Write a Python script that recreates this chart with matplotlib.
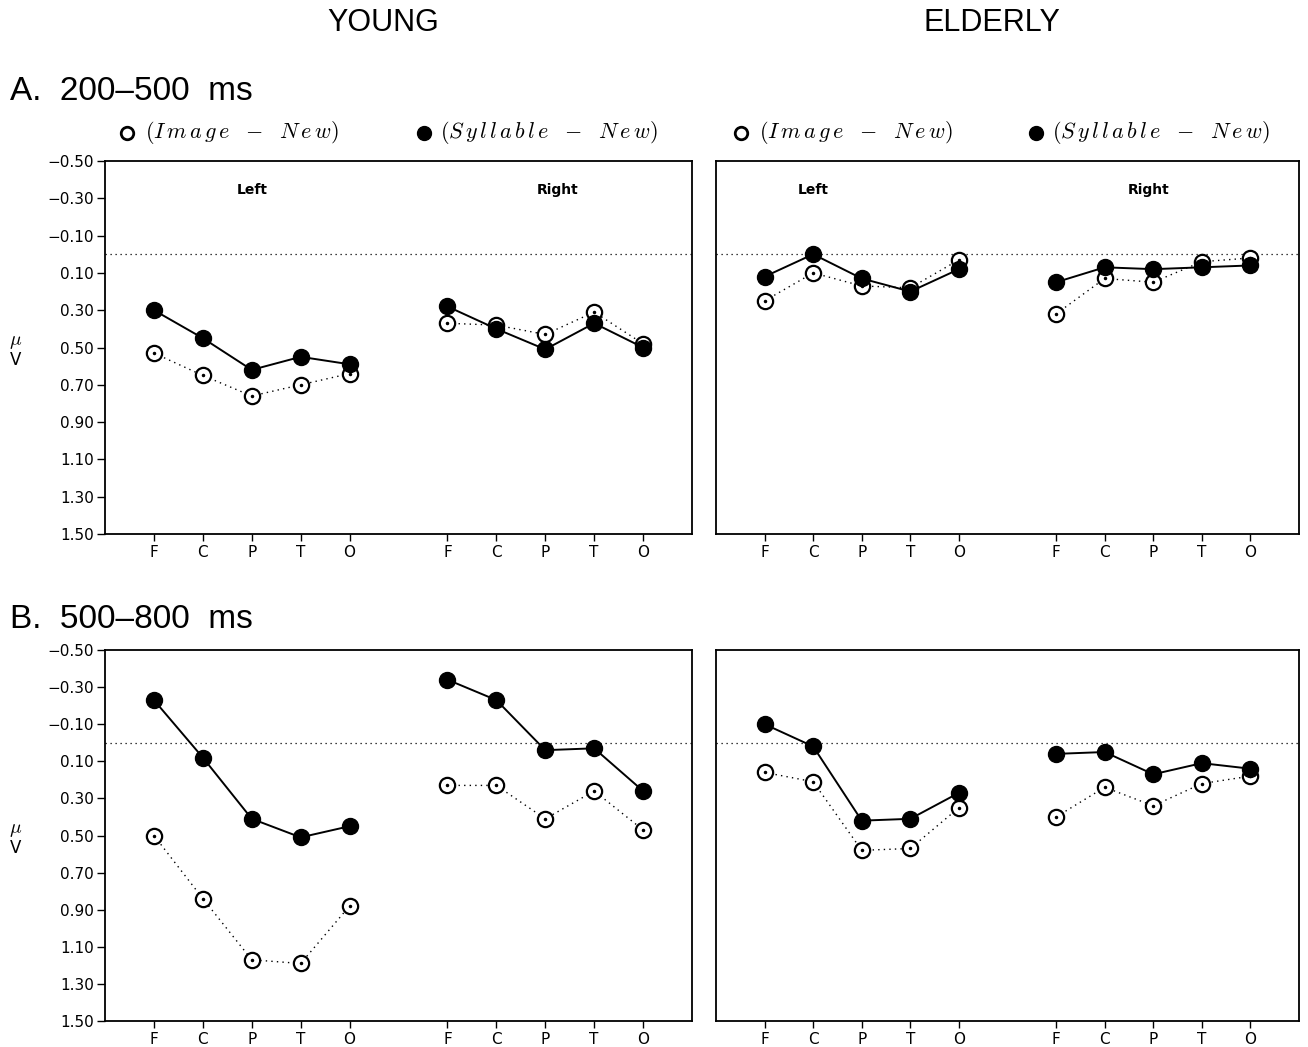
import matplotlib
matplotlib.use('Agg')
from matplotlib import pyplot as plt
from matplotlib.lines import Line2D
from matplotlib.transforms import blended_transform_factory

plt.rcParams['font.family'] = 'DejaVu Sans'
plt.rcParams['mathtext.fontset'] = 'cm'

# electrode sites, left hemisphere then right hemisphere
electrodes = ['F', 'C', 'P', 'T', 'O']
positions = [0, 1, 2, 3, 4, 6, 7, 8, 9, 10]

y_ticks = [-0.5, -0.3, -0.1, 0.1, 0.3, 0.5, 0.7, 0.9, 1.1, 1.3, 1.5]
y_ticklabels = ['\u22120.50', '\u22120.30', '\u22120.10', '0.10', '0.30',
                '0.50', '0.70', '0.90', '1.10', '1.30', '1.50']

# difference waves in microvolts (Left F..O, Right F..O)
young_a_image = [0.53, 0.65, 0.76, 0.70, 0.64, 0.37, 0.38, 0.43, 0.31, 0.48]
young_a_syllable = [0.30, 0.45, 0.62, 0.55, 0.59, 0.28, 0.40, 0.51, 0.37, 0.50]
elderly_a_image = [0.25, 0.10, 0.17, 0.18, 0.03, 0.32, 0.13, 0.15, 0.04, 0.02]
elderly_a_syllable = [0.12, 0.00, 0.13, 0.20, 0.08, 0.15, 0.07, 0.08, 0.07, 0.06]

young_b_image = [0.50, 0.84, 1.17, 1.19, 0.88, 0.23, 0.23, 0.41, 0.26, 0.47]
young_b_syllable = [-0.23, 0.08, 0.41, 0.51, 0.45, -0.34, -0.23, 0.04, 0.03, 0.26]
elderly_b_image = [0.16, 0.21, 0.58, 0.57, 0.35, 0.40, 0.24, 0.34, 0.22, 0.18]
elderly_b_syllable = [-0.10, 0.02, 0.42, 0.41, 0.27, 0.06, 0.05, 0.17, 0.11, 0.14]

W, H = 1308, 1047
fig = plt.figure(figsize=(W / 100, H / 100), dpi=100)


def px_axes(x0, y0, x1, y1):
    return fig.add_axes([x0 / W, 1 - y1 / H, (x1 - x0) / W, (y1 - y0) / H])


dotted = (0, (1, 3))


def draw_panel(ax, image, syllable, with_yticks):
    ax.axhline(0, color='black', lw=0.9, ls=dotted, zorder=1)
    for sl in (slice(0, 5), slice(5, 10)):
        xs = positions[sl]
        ax.plot(xs, image[sl], color='black', lw=1.0, ls=dotted, zorder=2)
        ax.plot(xs, syllable[sl], color='black', lw=1.4, zorder=3)
        ax.plot(xs, image[sl], ls='none', marker='o', ms=11, mfc='white',
                mec='black', mew=1.6, zorder=4)
        ax.plot(xs, image[sl], ls='none', marker='o', ms=1.5, color='black',
                zorder=5)
        ax.plot(xs, syllable[sl], ls='none', marker='o', ms=11.5,
                color='black', zorder=6)
    ax.set_xlim(-1, 11)
    ax.set_ylim(1.5, -0.5)
    ax.set_xticks(positions)
    ax.set_xticklabels(electrodes * 2, fontsize=11)
    ax.tick_params(axis='x', direction='out', length=5, width=1, pad=3)
    if with_yticks:
        ax.set_yticks(y_ticks)
        ax.set_yticklabels(y_ticklabels, fontsize=11)
        ax.tick_params(axis='y', direction='out', length=6, width=1, pad=2)
        tr = blended_transform_factory(ax.transAxes, ax.transAxes)
        ax.text(-0.152, 0.515, r'$\mu$', transform=tr, fontsize=14,
                ha='center', va='center')
        ax.text(-0.152, 0.466, 'V', transform=tr, fontsize=12,
                ha='center', va='center')
    else:
        ax.set_yticks([])
    for s in ax.spines.values():
        s.set_linewidth(1.3)


ax_ya = px_axes(105, 161, 692, 534)
ax_ea = px_axes(716, 161, 1299, 534)
ax_yb = px_axes(105, 650, 692, 1021)
ax_eb = px_axes(716, 650, 1299, 1021)

draw_panel(ax_ya, young_a_image, young_a_syllable, True)
draw_panel(ax_ea, elderly_a_image, elderly_a_syllable, False)
draw_panel(ax_yb, young_b_image, young_b_syllable, True)
draw_panel(ax_eb, elderly_b_image, elderly_b_syllable, False)

# hemisphere labels in the top panels
for ax, xl, xr in ((ax_ya, 2.0, 8.25), (ax_ea, 1.0, 7.9)):
    tr = blended_transform_factory(ax.transData, ax.transAxes)
    ax.text(xl, 0.922, 'Left', transform=tr, fontsize=10,
            fontweight='bold', ha='center', va='center')
    ax.text(xr, 0.922, 'Right', transform=tr, fontsize=10,
            fontweight='bold', ha='center', va='center')

# column and row headings
fig.text(383 / W, 1 - 23 / H, 'YOUNG', fontsize=22, family='Liberation Sans',
         ha='center', va='center')
fig.text(992 / W, 1 - 23 / H, 'ELDERLY', fontsize=22,
         family='Liberation Sans', ha='center', va='center')
fig.text(10 / W, 1 - 91 / H, 'A.  200\u2013500  ms', fontsize=24,
         family='Liberation Sans', ha='left', va='center')
fig.text(10 / W, 1 - 620 / H, 'B.  500\u2013800  ms', fontsize=24,
         family='Liberation Sans', ha='left', va='center')

# legend rows above panel A
leg_y = 1 - 133 / H
image_lbl = r'$(I\,m\,a\,g\,e\ \ -\ \ N\,e\,w)$'
syll_lbl = r'$(S\,y\,l\,l\,a\,b\,l\,e\ \ -\ \ N\,e\,w)$'
for xo, xf in ((127, 424), (741, 1036)):
    fig.add_artist(Line2D([xo / W], [leg_y], marker='o', ms=9, mfc='white',
                          mec='black', mew=2))
    fig.text((xo + 18) / W, leg_y, image_lbl, fontsize=16, va='center')
    fig.add_artist(Line2D([xf / W], [leg_y], marker='o', ms=10,
                          color='black'))
    fig.text((xf + 16) / W, leg_y, syll_lbl, fontsize=16, va='center')

fig.savefig('out.png', dpi=100)
